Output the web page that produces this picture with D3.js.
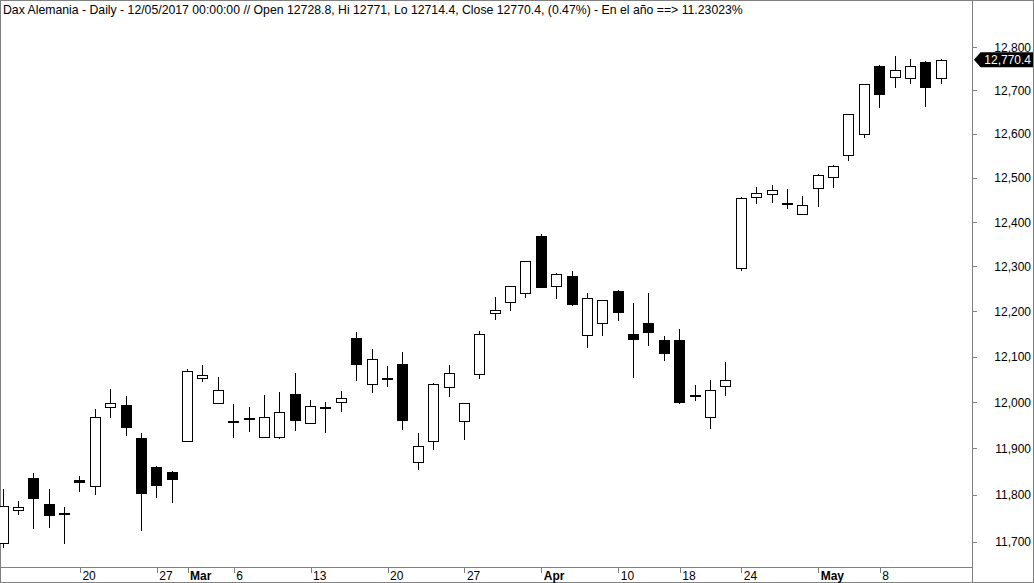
<!DOCTYPE html>
<html>
<head>
<meta charset="utf-8">
<script src="https://cdn.jsdelivr.net/npm/d3@7"></script>
<style>
  html, body { margin: 0; padding: 0; background: #fff; }
  svg { display: block; font-family: "Liberation Sans", Arial, sans-serif; }
</style>
</head>
<body>
<svg id="chart" width="1034" height="583"></svg>
<script>
// ---------- DATA ----------
const dates = ["2017-02-13","2017-02-14","2017-02-15","2017-02-16","2017-02-17",
  "2017-02-20","2017-02-21","2017-02-22","2017-02-23","2017-02-24",
  "2017-02-27","2017-02-28","2017-03-01","2017-03-02","2017-03-03",
  "2017-03-06","2017-03-07","2017-03-08","2017-03-09","2017-03-10",
  "2017-03-13","2017-03-14","2017-03-15","2017-03-16","2017-03-17",
  "2017-03-20","2017-03-21","2017-03-22","2017-03-23","2017-03-24",
  "2017-03-27","2017-03-28","2017-03-29","2017-03-30","2017-03-31",
  "2017-04-03","2017-04-04","2017-04-05","2017-04-06","2017-04-07",
  "2017-04-10","2017-04-11","2017-04-12","2017-04-13",
  "2017-04-18","2017-04-19","2017-04-20","2017-04-21",
  "2017-04-24","2017-04-25","2017-04-26","2017-04-27","2017-04-28",
  "2017-05-02","2017-05-03","2017-05-04","2017-05-05",
  "2017-05-08","2017-05-09","2017-05-10","2017-05-11","2017-05-12"];

const openV = [11698,11767,11836,11780,11760,
  11831,11818,11989,11994,11922,
  11860,11849,11915,12052,11998,
  11960,11966,11924,11924,12018,
  11954,11990,12000,12140,12039,
  12052,12084,11870,11915,12033,
  11958,12061,12195,12220,12240,
  12368,12256,12278,12147,12173,
  12245,12149,12173,12136,
  12136,12016,11967,12034,
  12296,12455,12463,12442,12417,
  12476,12501,12551,12599,
  12756,12730,12728,12765,12728.8];

const highV = [11812,11786,11846,11812,11774,
  11840,11985,12029,12014,11933,
  11862,11851,12072,12081,12055,
  11996,11989,12016,12022,12064,
  12005,12000,12025,12153,12116,
  12080,12109,11932,12042,12081,
  11998,12156,12232,12256,12312,
  12372,12286,12290,12241,12225,
  12246,12218,12241,12145,
  12161,12038,12049,12088,
  12455,12479,12483,12474,12458,
  12507,12529,12645,12714,
  12758,12779,12772,12768,12771];

const lowV = [11687,11756,11727,11729,11695,
  11806,11800,11966,11927,11723,
  11793,11783,11915,12043,11997,
  11923,11936,11923,11919,11938,
  11952,11932,11979,12047,12019,
  12034,11940,11852,11897,12012,
  11918,12050,12181,12201,12230,
  12254,12226,12212,12119,12146,
  12179,12052,12124,12091,
  11997,12003,11942,12013,
  12290,12439,12443,12428,12416,
  12434,12477,12538,12591,
  12660,12704,12715,12662,12714.4];

const closeV = [11776,11773,11793,11757,11757,
  11826,11967,11998,11947,11804,
  11821,11834,12068,12059,12026,
  11958,11964,11967,11978,11962,
  11991,11989,12009,12082,12094,
  12051,11962,11904,12040,12063,
  11998,12149,12202,12256,12311,
  12255,12282,12215,12229,12224,
  12199,12138,12153,12108,
  11999,12014,12026,12048,
  12453,12464,12472,12440,12437,
  12505,12526,12645,12714,
  12692,12746,12755,12708,12770.4];

const xTickIndex  = [5, 10, 12, 15, 20, 25, 30, 35, 40, 44, 48, 53, 57];
const xTickLabels = ["20","27","Mar","6","13","20","27","Apr","10","18","24","May","8"];
const monthLabels = ["Mar","Apr","May"];
const yTicks = [11700,11800,11900,12000,12100,12200,12300,12400,12500,12600,12700,12800];
const lastPrice = 12770.4;
const titleText = "Dax Alemania - Daily - 12/05/2017 00:00:00 // Open 12728.8, Hi 12771, Lo 12714.4, Close 12770.4, (0.47%) - En el año ==> 11.23023%";

// ---------- LAYOUT ----------
const W = 1034, H = 583;
const axisX = 972.5;     // right price axis line
const axisY = 567.5;     // bottom date axis line
const svg = d3.select("#chart");

const bars = dates.map((d, i) => ({i, d, o: openV[i], h: highV[i], l: lowV[i], c: closeV[i]}));

const x = d3.scaleLinear().domain([0, dates.length - 1]).range([3.5, 941.7]);
const y = d3.scaleLog().domain([11700, 12800]).range([541.5, 47]);

// frame
const frame = svg.append("g").attr("fill", "none").attr("stroke", "#808080").attr("shape-rendering", "crispEdges");
frame.append("rect").attr("x", 0.5).attr("y", 0.5).attr("width", W - 1.5).attr("height", H - 1.5);
frame.append("line").attr("x1", axisX).attr("x2", axisX).attr("y1", 0).attr("y2", H);
frame.append("line").attr("x1", 0).attr("x2", axisX).attr("y1", axisY).attr("y2", axisY);

// title
svg.append("text").attr("x", 3).attr("y", 14).attr("font-size", 12.25).attr("fill", "#000").text(titleText);

// candles
const cg = svg.append("g").attr("shape-rendering", "crispEdges");
const cx = d => Math.round(x(d.i)) - 0.5;
cg.selectAll("line.wick").data(bars).join("line")
  .attr("class", "wick")
  .attr("x1", cx).attr("x2", cx)
  .attr("y1", d => y(d.h)).attr("y2", d => y(d.l))
  .attr("stroke", "#000").attr("stroke-width", 1);
cg.selectAll("rect.body").data(bars).join("rect")
  .attr("class", "body")
  .attr("x", d => cx(d) - 5)
  .attr("width", 10)
  .attr("y", d => Math.round(y(Math.max(d.o, d.c))) + 0.5)
  .attr("height", d => Math.max(1, Math.round(Math.abs(y(d.o) - y(d.c)))))
  .attr("fill", d => d.c >= d.o ? "#fff" : "#000")
  .attr("stroke", "#000").attr("stroke-width", 1);

// x axis
const xAxis = d3.axisBottom(x).tickValues(xTickIndex)
  .tickFormat((d, k) => xTickLabels[k]).tickSize(5).tickPadding(0);
const gx = svg.append("g").attr("transform", `translate(0,${axisY})`).call(xAxis);
gx.select(".domain").remove();
gx.selectAll(".tick line").attr("stroke", "#808080").attr("shape-rendering", "crispEdges")
  .attr("transform", "translate(-0.5,0)");
gx.selectAll(".tick text")
  .attr("text-anchor", "start").attr("x", 1.5).attr("y", 12).attr("dy", 0)
  .attr("font-size", 12).attr("fill", "#000")
  .attr("font-family", "Liberation Sans, Arial, sans-serif")
  .attr("font-weight", (d, k) => monthLabels.includes(xTickLabels[k]) ? "bold" : "normal");

// y axis
const yAxis = d3.axisRight(y).tickValues(yTicks).tickFormat(d3.format(",")).tickSize(4).tickPadding(0);
const gy = svg.append("g").attr("transform", `translate(${axisX},0)`).call(yAxis);
gy.select(".domain").remove();
gy.selectAll(".tick line").attr("stroke", "#808080").attr("shape-rendering", "crispEdges");
gy.selectAll(".tick text")
  .attr("text-anchor", "end").attr("x", 1031 - axisX).attr("dy", "0.36em")
  .attr("font-size", 12).attr("fill", "#000")
  .attr("font-family", "Liberation Sans, Arial, sans-serif");

// last price tag
const yc = y(lastPrice);
svg.append("path")
  .attr("d", `M${axisX + 1.5},${yc} L${axisX + 8},${yc - 7.5} L1033,${yc - 7.5} L1033,${yc + 7.5} L${axisX + 8},${yc + 7.5} Z`)
  .attr("fill", "#000");
svg.append("text").attr("x", 1031).attr("y", yc).attr("dy", "0.36em")
  .attr("text-anchor", "end").attr("font-size", 12).attr("fill", "#fff")
  .text(d3.format(",.1f")(lastPrice));
</script>
</body>
</html>
